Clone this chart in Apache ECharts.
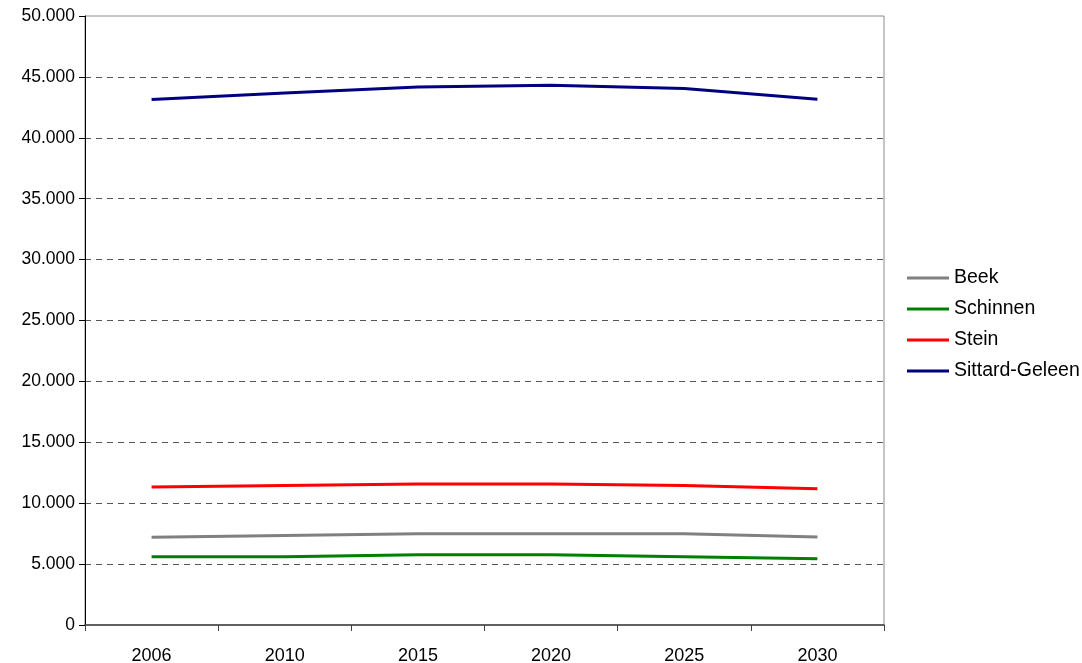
<!DOCTYPE html>
<html>
<head>
<meta charset="utf-8">
<script src="https://cdn.jsdelivr.net/npm/echarts@6/dist/echarts.min.js"></script>
<style>
  html, body { margin: 0; padding: 0; background: #fff; }
  #chart { width: 1082px; height: 663px; }
</style>
</head>
<body>
<div id="chart"></div>
<script>
// Population forecast per municipality
const years = ['2006', '2010', '2015', '2020', '2025', '2030'];
const beek = [7200, 7350, 7500, 7500, 7500, 7220];
const schinnen = [5610, 5610, 5770, 5770, 5600, 5440];
const stein = [11330, 11450, 11580, 11580, 11450, 11190];
const sittardGeleen = [43150, 43680, 44170, 44310, 44050, 43160];

const seriesNames = ['Beek', 'Schinnen', 'Stein', 'Sittard-Geleen'];
const seriesData = [beek, schinnen, stein, sittardGeleen];
const seriesColors = ['#808080', '#008000', '#ff0000', '#000080'];

const font = "'Liberation Sans', Arial, sans-serif";

const chart = echarts.init(document.getElementById('chart'), null, { renderer: 'canvas' });
chart.setOption({
  animation: false,
  backgroundColor: '#ffffff',
  textStyle: { fontFamily: font },
  grid: {
    left: 85, right: 198, top: 16, bottom: 38,
    outerBoundsMode: 'none',
    show: true, borderColor: '#8c8c8c', borderWidth: 1
  },
  legend: {
    orient: 'vertical',
    left: 902, top: 263,
    icon: 'rect',
    itemWidth: 42, itemHeight: 3, itemGap: 11,
    textStyle: { fontSize: 19.5, color: '#000', fontFamily: font, padding: [0, 0, 0, 0] },
    data: seriesNames
  },
  xAxis: {
    type: 'category',
    data: years,
    boundaryGap: true,
    axisLine: { lineStyle: { color: '#404040', width: 1.5 } },
    axisTick: { show: true, alignWithLabel: false, length: 6, lineStyle: { color: '#404040' } },
    axisLabel: { fontSize: 18, color: '#000', margin: 22, fontFamily: font }
  },
  yAxis: {
    type: 'value',
    min: 0, max: 50000, interval: 5000,
    axisLine: { show: true, lineStyle: { color: '#000', width: 1 } },
    axisTick: { show: true, length: 6, lineStyle: { color: '#000' } },
    axisLabel: {
      fontSize: 17.5, color: '#000', margin: 10, fontFamily: font,
      formatter: v => v === 0 ? '0' : (v / 1000).toFixed(3)
    },
    splitLine: {
      show: true, showMinLine: false, showMaxLine: false,
      lineStyle: { color: '#555', type: [6, 5], width: 1 }
    }
  },
  series: seriesNames.map((name, i) => ({
    name,
    type: 'line',
    data: seriesData[i],
    symbol: 'none',
    lineStyle: { color: seriesColors[i], width: 3 },
    itemStyle: { color: seriesColors[i] }
  }))
});
</script>
</body>
</html>
